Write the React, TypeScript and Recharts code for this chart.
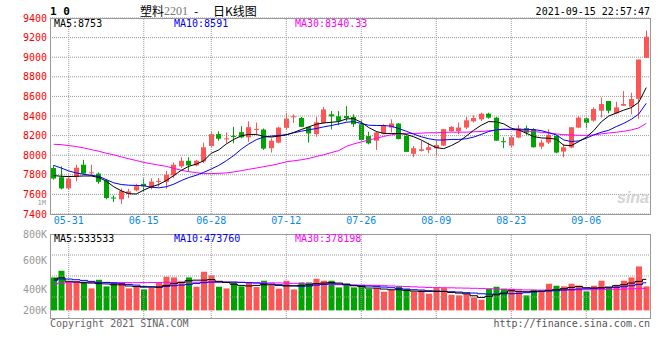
import React from 'react'
import { ComposedChart, Bar, Line, XAxis, YAxis, CartesianGrid, ReferenceLine, Cell } from 'recharts'

// 塑料2201 日K (05-27 ~ 09-16 夜盘)
const DATES = [
  '05-27', '05-28', '05-31', '06-01', '06-02', '06-03', '06-04', '06-07', '06-08', '06-09',
  '06-10', '06-11', '06-15', '06-16', '06-17', '06-18', '06-21', '06-22', '06-23', '06-24',
  '06-25', '06-28', '06-29', '06-30', '07-01', '07-02', '07-05', '07-06', '07-07', '07-08',
  '07-09', '07-12', '07-13', '07-14', '07-15', '07-16', '07-19', '07-20', '07-21', '07-22',
  '07-23', '07-26', '07-27', '07-28', '07-29', '07-30', '08-02', '08-03', '08-04', '08-05',
  '08-06', '08-09', '08-10', '08-11', '08-12', '08-13', '08-16', '08-17', '08-18', '08-19',
  '08-20', '08-23', '08-24', '08-25', '08-26', '08-27', '08-30', '08-31', '09-01', '09-02',
  '09-03', '09-06', '09-07', '09-08', '09-09', '09-10', '09-13', '09-14', '09-15', '09-16',
]

const OPEN = [
  7869, 7775, 7661, 7778, 7903, 7818, 7812, 7741, 7568, 7550,
  7607, 7641, 7708, 7667, 7731, 7728, 7795, 7886, 7943, 7896,
  7936, 8094, 8215, 8165, 8195, 8235, 8182, 8262, 8262, 8071,
  8128, 8279, 8390, 8380, 8289, 8215, 8329, 8417, 8397, 8400,
  8390, 8316, 8195, 8148, 8222, 8282, 8323, 8198, 8014, 8044,
  8054, 8071, 8098, 8245, 8245, 8282, 8346, 8366, 8424, 8383,
  8143, 8098, 8180, 8275, 8264, 8088, 8129, 8197, 8037, 8078,
  8281, 8376, 8353, 8454, 8553, 8427, 8505, 8495, 8576, 8993,
]
const HIGH = [
  7900, 7886, 7785, 7903, 7953, 7903, 7825, 7758, 7590, 7661,
  7657, 7708, 7763, 7765, 7768, 7839, 7926, 7980, 7980, 7953,
  8128, 8239, 8245, 8232, 8289, 8296, 8346, 8333, 8272, 8172,
  8289, 8434, 8417, 8390, 8289, 8390, 8491, 8450, 8450, 8500,
  8417, 8356, 8239, 8239, 8316, 8366, 8329, 8205, 8094, 8148,
  8128, 8148, 8266, 8296, 8333, 8390, 8407, 8434, 8434, 8390,
  8183, 8197, 8308, 8302, 8275, 8156, 8264, 8207, 8115, 8285,
  8400, 8383, 8488, 8590, 8553, 8546, 8654, 8637, 8976, 9272,
]
const LOW = [
  7750, 7651, 7651, 7735, 7802, 7792, 7708, 7550, 7523, 7500,
  7563, 7631, 7624, 7651, 7678, 7657, 7765, 7869, 7836, 7886,
  7920, 8087, 8148, 8121, 8121, 8172, 8138, 8212, 8054, 8027,
  8121, 8266, 8329, 8289, 8128, 8188, 8323, 8262, 8306, 8346,
  8289, 8148, 8111, 8054, 8212, 8232, 8161, 8034, 7980, 8037,
  8020, 7987, 8094, 8239, 8215, 8266, 8333, 8350, 8373, 8148,
  8071, 8078, 8173, 8207, 8078, 8064, 8115, 8020, 7980, 8071,
  8275, 8275, 8342, 8386, 8427, 8420, 8505, 8417, 8373, 8993,
]
const CLOSE = [
  7762, 7661, 7762, 7872, 7812, 7825, 7728, 7563, 7560, 7634,
  7631, 7684, 7682, 7731, 7738, 7802, 7903, 7943, 7896, 7943,
  8081, 8215, 8168, 8172, 8185, 8182, 8286, 8268, 8067, 8148,
  8282, 8373, 8397, 8289, 8222, 8336, 8467, 8397, 8350, 8380,
  8316, 8155, 8121, 8232, 8306, 8323, 8165, 8034, 8071, 8060,
  8081, 8104, 8266, 8289, 8282, 8356, 8380, 8424, 8383, 8148,
  8136, 8183, 8275, 8230, 8081, 8129, 8207, 8027, 8081, 8285,
  8383, 8332, 8471, 8522, 8454, 8488, 8522, 8573, 8976, 9209,
]

const MA5 = [
  7792, 7785, 7782, 7785, 7788, 7788, 7772, 7735, 7678, 7637,
  7607, 7604, 7644, 7678, 7701, 7741, 7792, 7846, 7886, 7909,
  7943, 8020, 8054, 8114, 8161, 8198, 8212, 8212, 8192, 8185,
  8195, 8208, 8232, 8262, 8289, 8316, 8329, 8336, 8343, 8370,
  8373, 8336, 8282, 8242, 8222, 8222, 8222, 8212, 8188, 8155,
  8114, 8077, 8067, 8098, 8138, 8195, 8255, 8306, 8343, 8340,
  8320, 8275, 8258, 8224, 8190, 8176, 8173, 8163, 8102, 8098,
  8139, 8183, 8251, 8340, 8400, 8430, 8460, 8485, 8540, 8690,
]
const MA10 = [
  7896, 7869, 7839, 7819, 7805, 7795, 7785, 7751, 7718, 7701,
  7694, 7691, 7688, 7674, 7667, 7678, 7704, 7741, 7772, 7795,
  7825, 7859, 7896, 7943, 7997, 8061, 8114, 8158, 8185, 8195,
  8202, 8208, 8229, 8245, 8259, 8272, 8289, 8303, 8319, 8336,
  8343, 8323, 8306, 8303, 8303, 8296, 8272, 8245, 8215, 8188,
  8168, 8155, 8155, 8161, 8161, 8168, 8185, 8212, 8242, 8259,
  8265, 8264, 8264, 8264, 8261, 8251, 8230, 8207, 8156, 8139,
  8146, 8173, 8207, 8234, 8254, 8292, 8325, 8366, 8420, 8530,
]
const MA30 = [
  8111, 8108, 8098, 8088, 8074, 8057, 8040, 8020, 8004, 7983,
  7963, 7946, 7926, 7913, 7899, 7886, 7866, 7846, 7832, 7822,
  7812, 7812, 7815, 7819, 7829, 7842, 7856, 7869, 7883, 7896,
  7913, 7933, 7943, 7953, 7967, 7987, 8004, 8027, 8047, 8090,
  8115, 8135, 8155, 8172, 8192, 8208, 8219, 8222, 8222, 8225,
  8229, 8229, 8232, 8235, 8235, 8235, 8239, 8242, 8249, 8256,
  8264, 8261, 8254, 8247, 8241, 8234, 8227, 8217, 8210, 8207,
  8203, 8203, 8207, 8217, 8227, 8234, 8244, 8258, 8278, 8325,
]

// 成交量 (千手)
const VOLUME = [
  567, 682, 487, 499, 493, 378, 527, 413, 481, 481,
  378, 413, 361, 384, 470, 579, 567, 499, 567, 407,
  665, 602, 407, 378, 481, 413, 470, 401, 510, 430,
  372, 510, 361, 481, 481, 544, 510, 510, 395, 453,
  395, 413, 367, 384, 321, 350, 413, 367, 321, 344,
  287, 384, 384, 269, 258, 281, 223, 183, 372, 407,
  372, 372, 338, 258, 355, 327, 458, 424, 413, 458,
  424, 327, 424, 510, 384, 441, 510, 567, 756, 413,
]
const VOL_MA5 = [
  540, 560, 500, 490, 475, 470, 460, 455, 440, 440,
  420, 410, 400, 400, 400, 430, 460, 480, 510, 520,
  520, 530, 500, 480, 450, 430, 420, 430, 440, 440,
  430, 420, 420, 430, 440, 460, 470, 481, 470, 453,
  424, 413, 384, 384, 367, 355, 355, 344, 332, 327,
  327, 327, 327, 309, 298, 286, 252, 223, 241, 269,
  298, 338, 327, 321, 327, 332, 344, 355, 372, 395,
  413, 390, 384, 390, 401, 424, 441, 470, 498, 534,
]
const VOL_MA10 = [
  516, 539, 539, 527, 516, 499, 481, 481, 470, 458,
  447, 435, 413, 407, 401, 413, 424, 435, 447, 464,
  476, 487, 487, 487, 487, 481, 476, 470, 458, 453,
  441, 430, 424, 413, 418, 435, 447, 458, 453, 441,
  430, 424, 418, 413, 401, 390, 378, 367, 355, 350,
  338, 332, 327, 321, 315, 304, 298, 286, 281, 281,
  286, 286, 292, 304, 315, 327, 332, 338, 350, 355,
  367, 372, 378, 384, 390, 395, 407, 424, 447, 474,
]
const VOL_MA30 = [
  453, 468, 478, 482, 483, 481, 480, 480, 479, 478,
  477, 477, 478, 479, 480, 481, 482, 483, 484, 485,
  486, 487, 487, 486, 485, 484, 480, 477, 475, 474,
  472, 469, 465, 460, 456, 452, 448, 445, 442, 440,
  438, 435, 432, 430, 425, 420, 415, 410, 405, 400,
  395, 392, 390, 388, 385, 383, 380, 378, 372, 368,
  364, 360, 356, 352, 350, 349, 349, 350, 351, 352,
  353, 354, 356, 358, 360, 363, 366, 370, 374, 378,
]

const PRICE_TICKS = [7400, 7600, 7800, 8000, 8200, 8400, 8600, 8800, 9000, 9200, 9400]
const DATE_TICKS = ['05-31', '06-15', '06-28', '07-12', '07-26', '08-09', '08-23', '09-06']
// 新浪量能轴的刻度文字与实际刻度并不对应，这里照原图位置摆放
const VOL_TICKS = [0, 356, 855, 1314]
const VOL_TICK_LABELS = ['200K', '400K', '600K', '800K']
const VOL_GRID = [230, 592, 953]

const RED = '#ff5555'
const GREEN = '#00a400'
const GRID = '#999'
const MONO = "'DejaVu Sans Mono', monospace"
const CJK = "'Noto Sans CJK SC', sans-serif"

const rows = DATES.map((date, i) => ({
  date,
  range: [LOW[i], HIGH[i]],
  open: OPEN[i],
  high: HIGH[i],
  low: LOW[i],
  close: CLOSE[i],
  ma5: MA5[i],
  ma10: MA10[i],
  ma30: MA30[i],
  vol: VOLUME[i],
  vma5: VOL_MA5[i],
  vma10: VOL_MA10[i],
  vma30: VOL_MA30[i],
}))

const Candle = (props: any) => {
  const { x, y, width, height, payload } = props
  const top = Math.min(y, y + height)
  const bottom = Math.max(y, y + height)
  const { open, close, high, low } = payload
  const toY = (v: number) => bottom - ((v - low) / (high - low)) * (bottom - top)
  const color = close >= open ? RED : GREEN
  const left = Math.round(x)
  const cx = left + Math.floor(width / 2) + 0.5
  const bodyTop = toY(Math.max(open, close))
  const bodyH = Math.max(1, Math.abs(toY(open) - toY(close)))
  return (
    <g>
      <line x1={cx} x2={cx} y1={top} y2={bottom} stroke={color} strokeWidth={1} />
      <rect x={left} y={bodyTop} width={width} height={bodyH} fill={color} />
    </g>
  )
}

const Txt = ({ style, children }: any) => (
  <div
    style={{
      position: 'absolute',
      fontFamily: MONO,
      fontSize: 10,
      lineHeight: '10px',
      whiteSpace: 'pre',
      ...style,
    }}
  >
    {children}
  </div>
)

export default function App() {
  return (
    <div style={{ position: 'fixed', left: 0, top: 0, width: 660, height: 360, background: '#fff', overflow: 'hidden' }}>
      {/* 标题行 */}
      <Txt style={{ left: 50, top: 6, fontSize: 11, lineHeight: '11px', fontWeight: 'bold', color: '#000' }}>1 0</Txt>
      <Txt style={{ left: 140, top: 5, fontSize: 12, lineHeight: '12px', fontFamily: CJK, color: '#000' }}>塑料</Txt>
      <Txt style={{ left: 164, top: 5, fontSize: 12, lineHeight: '12px', fontFamily: "'Liberation Serif', serif", color: '#777' }}>2201</Txt>
      <Txt style={{ left: 194, top: 5, fontSize: 12, lineHeight: '12px', fontFamily: CJK, color: '#000' }}>-</Txt>
      <Txt style={{ left: 213, top: 5, fontSize: 12, lineHeight: '12px', fontFamily: CJK, color: '#000' }}>日K线图</Txt>
      <Txt style={{ right: 10, top: 7, color: '#000' }}>2021-09-15 22:57:47</Txt>

      {/* K线 */}
      <div style={{ position: 'absolute', left: 0, top: 0 }}>
        <ComposedChart width={660} height={228} data={rows} margin={{ top: 18, right: 10, bottom: 0, left: 0 }}>
          <CartesianGrid vertical={false} stroke={GRID} strokeDasharray="1 1" />
          <XAxis
            dataKey="date"
            ticks={DATE_TICKS}
            interval={0}
            height={14}
            axisLine={false}
            tickLine={false}
            tickSize={0}
            tickMargin={3}
            tick={{ fill: '#0a88e6', fontSize: 10, fontFamily: MONO }}
          />
          <YAxis
            width={50}
            domain={[7400, 9400]}
            ticks={PRICE_TICKS}
            interval={0}
            allowDataOverflow
            axisLine={false}
            tickLine={false}
            tickSize={0}
            tickMargin={3}
            tick={{ fill: '#ff0000', fontSize: 10, fontFamily: MONO }}
          />
          {DATE_TICKS.map((d) => (
            <ReferenceLine key={d} x={d} stroke={GRID} strokeDasharray="1 1" />
          ))}
          <Bar dataKey="range" barSize={5} shape={<Candle />} isAnimationActive={false} />
          <Line dataKey="ma30" stroke="#ff00ff" strokeWidth={1} dot={false} isAnimationActive={false} />
          <Line dataKey="ma10" stroke="#0000ff" strokeWidth={1} dot={false} isAnimationActive={false} />
          <Line dataKey="ma5" stroke="#000000" strokeWidth={1} dot={false} isAnimationActive={false} />
        </ComposedChart>
      </div>
      <div style={{ position: 'absolute', left: 50, top: 18, width: 601, height: 197, boxSizing: 'border-box', border: '1px solid #999' }} />
      <Txt style={{ left: 54, top: 19, color: '#000' }}>MA5:8753</Txt>
      <Txt style={{ left: 174, top: 19, color: '#0000ff' }}>MA10:8591</Txt>
      <Txt style={{ left: 295, top: 19, color: '#ff00ff' }}>MA30:8340.33</Txt>
      <Txt style={{ right: 614, top: 200, fontSize: 7, lineHeight: '7px', color: '#999' }}>1M</Txt>
      <div style={{ position: 'absolute', left: 617, top: 190, fontFamily: "'Liberation Sans', sans-serif", fontStyle: 'italic', fontWeight: 'bold', fontSize: 16, lineHeight: '16px', color: '#d4d4d4' }}>
        sina
      </div>

      {/* 成交量 */}
      <div style={{ position: 'absolute', left: 0, top: 230 }}>
        <ComposedChart width={660} height={90} data={rows} margin={{ top: 4, right: 10, bottom: 2, left: 0 }}>
          <XAxis dataKey="date" hide height={0} />
          <YAxis
            width={50}
            domain={[-131, 1314]}
            ticks={VOL_TICKS}
            interval={0}
            allowDataOverflow
            axisLine={false}
            tickLine={false}
            tickSize={0}
            tickMargin={3}
            tickFormatter={(v: number) => VOL_TICK_LABELS[VOL_TICKS.indexOf(v)] ?? ''}
            tick={{ fill: '#999', fontSize: 10, fontFamily: MONO }}
          />
          {VOL_GRID.map((v) => (
            <ReferenceLine key={v} y={v} stroke={GRID} strokeDasharray="1 1" />
          ))}
          {DATE_TICKS.map((d) => (
            <ReferenceLine key={d} x={d} stroke={GRID} strokeDasharray="1 1" />
          ))}
          <Bar dataKey="vol" barSize={6} isAnimationActive={false}>
            {rows.map((r, i) => (
              <Cell key={i} fill={r.close >= r.open ? RED : GREEN} />
            ))}
          </Bar>
          <Line type="step" dataKey="vma30" stroke="#ff00ff" strokeWidth={1} dot={false} isAnimationActive={false} />
          <Line type="step" dataKey="vma10" stroke="#0000ff" strokeWidth={1} dot={false} isAnimationActive={false} />
          <Line type="step" dataKey="vma5" stroke="#000000" strokeWidth={1} dot={false} isAnimationActive={false} />
        </ComposedChart>
      </div>
      <div style={{ position: 'absolute', left: 50, top: 234, width: 601, height: 85, boxSizing: 'border-box', border: '1px solid #999' }} />
      <Txt style={{ left: 54, top: 234, color: '#000' }}>MA5:533533</Txt>
      <Txt style={{ left: 174, top: 234, color: '#0000ff' }}>MA10:473760</Txt>
      <Txt style={{ left: 295, top: 234, color: '#ff00ff' }}>MA30:378198</Txt>

      <Txt style={{ left: 50, top: 319, color: '#666' }}>Copyright 2021 SINA.COM</Txt>
      <Txt style={{ right: 10, top: 319, color: '#555' }}>http://finance.sina.com.cn</Txt>
    </div>
  )
}
